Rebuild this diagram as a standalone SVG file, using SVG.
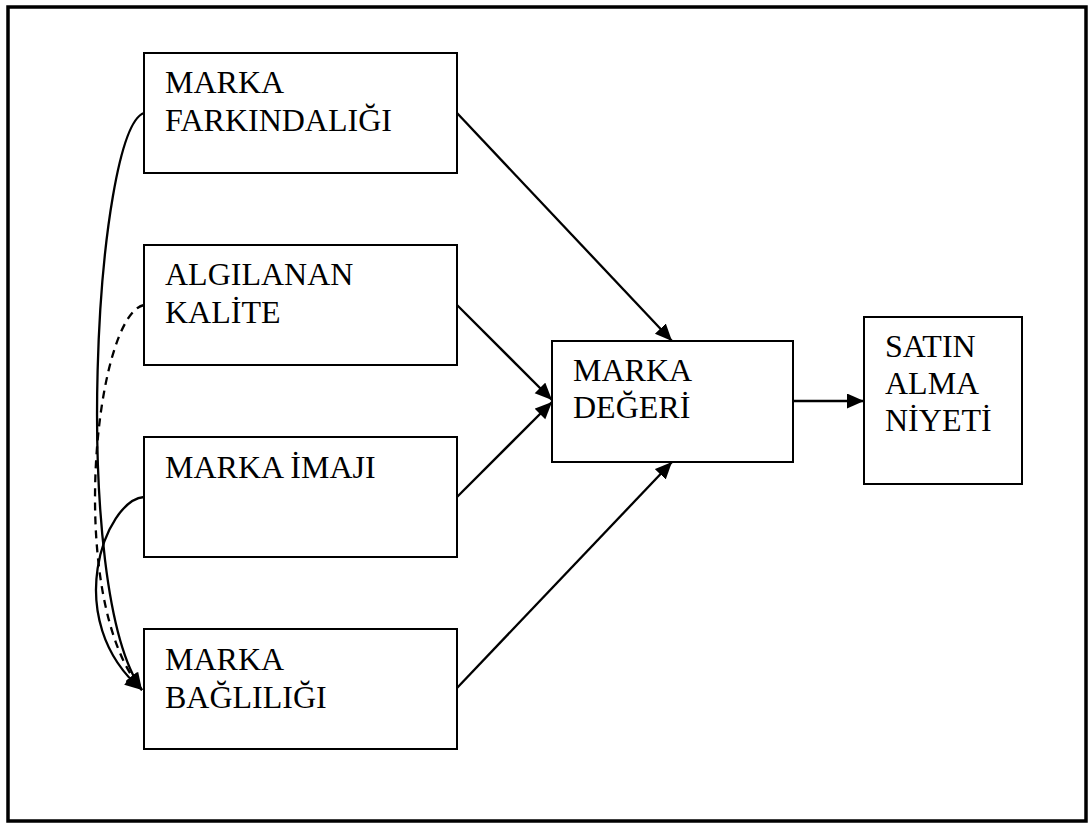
<svg xmlns="http://www.w3.org/2000/svg" width="1091" height="824" viewBox="0 0 1091 824">
<style>
.box{fill:#fff;stroke:#000;stroke-width:2}
.t{font-family:"Liberation Serif","Times New Roman",serif;font-size:32px;fill:#000}
.c{fill:none;stroke:#000;stroke-width:2.3}
.d{stroke-dasharray:8 6}
</style>
<defs>
<marker id="ah" markerUnits="userSpaceOnUse" markerWidth="20" markerHeight="16" refX="17" refY="7.5" orient="auto">
<path d="M0,0 L17,7.5 L0,15 Z" fill="#000"/>
</marker>
</defs>
<rect x="0" y="0" width="1091" height="824" fill="#fff"/>
<rect id="frame" x="8" y="7" width="1078" height="814" fill="none" stroke="#000" stroke-width="3.5"/>
<g id="n1"><rect class="box" x="144" y="53" width="313" height="120"/><text class="t" x="165" y="93">MARKA</text><text class="t" x="165" y="131">FARKINDALIĞI</text></g>
<g id="n2"><rect class="box" x="144" y="245" width="313" height="120"/><text class="t" x="165" y="285">ALGILANAN</text><text class="t" x="165" y="323">KALİTE</text></g>
<g id="n3"><rect class="box" x="144" y="437" width="313" height="120"/><text class="t" x="165" y="478">MARKA İMAJI</text></g>
<g id="n4"><rect class="box" x="144" y="629" width="313" height="120"/><text class="t" x="165" y="670">MARKA</text><text class="t" x="165" y="708">BAĞLILIĞI</text></g>
<g id="n5"><rect class="box" x="552" y="341" width="241" height="121"/><text class="t" x="573" y="381">MARKA</text><text class="t" x="573" y="418">DEĞERİ</text></g>
<g id="n6"><rect class="box" x="864" y="317" width="158" height="167"/><text class="t" x="885" y="357">SATIN</text><text class="t" x="885" y="394">ALMA</text><text class="t" x="885" y="431">NİYETİ</text></g>
<g id="connectors">
<line class="c" x1="457" y1="113" x2="672" y2="341" marker-end="url(#ah)"/>
<line class="c" x1="457" y1="305" x2="552" y2="400" marker-end="url(#ah)"/>
<line class="c" x1="457" y1="497" x2="552" y2="402" marker-end="url(#ah)"/>
<line class="c" x1="457" y1="688" x2="672" y2="462" marker-end="url(#ah)"/>
<line class="c" x1="793" y1="401" x2="864" y2="401" marker-end="url(#ah)"/>
<path class="c" d="M144,113 C95,130 70,590 142,690" marker-end="url(#ah)"/>
<path class="c d" d="M144,305 C95,315 65,600 142,690" marker-end="url(#ah)"/>
<path class="c" d="M144,497 C105,500 60,620 142,690" marker-end="url(#ah)"/>
</g>
</svg>
